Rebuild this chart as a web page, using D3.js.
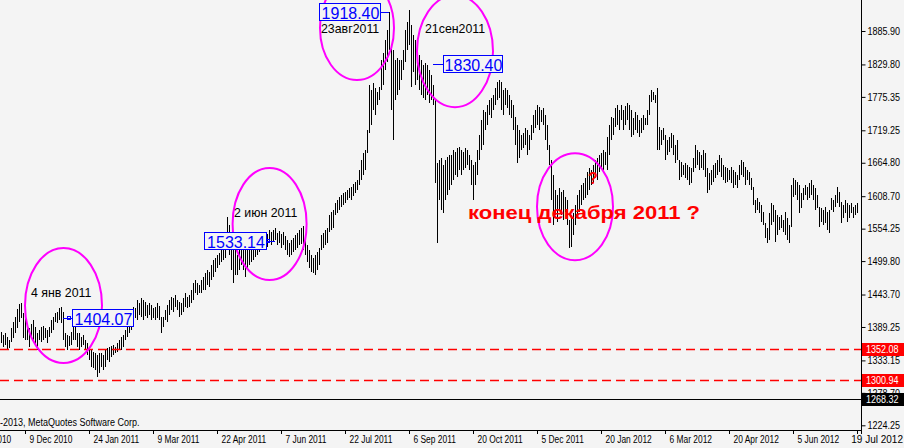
<!DOCTYPE html>
<html><head><meta charset="utf-8">
<script src="https://cdn.jsdelivr.net/npm/d3@7"></script>
<style>
html,body{margin:0;padding:0;background:#f4f4f4;}
svg{display:block;font-family:"Liberation Sans",Arial,sans-serif;}
</style></head>
<body><svg id="c" width="904" height="448"></svg>
<script>
// Daily bars (high / low), XAUUSD, late Oct 2010 .. 19 Jul 2012
const highs=[1381,1376,1379,1372,1367,1388,1398,1406,1419,1428,
1430,1413,1404,1393,1388,1394,1401,1389,1379,1384,
1389,1391,1388,1384,1389,1401,1406,1413,1414,1421,
1423,1414,1379,1376,1374,1381,1389,1398,1379,1379,
1372,1376,1367,1362,1356,1351,1347,1346,1342,1346,
1346,1342,1351,1354,1356,1357,1359,1356,1362,1367,
1372,1376,1384,1389,1401,1406,1423,1421,1434,1430,
1438,1434,1431,1426,1430,1426,1421,1423,1430,1424,
1406,1406,1418,1426,1434,1439,1438,1443,1434,1431,
1430,1438,1446,1439,1443,1451,1463,1468,1463,1460,
1468,1473,1480,1485,1481,1493,1502,1505,1510,1513,
1518,1527,1549,1574,1560,1535,1527,1522,1510,1518,
1530,1527,1518,1522,1527,1535,1530,1539,1542,1535,
1544,1545,1549,1545,1552,1549,1552,1555,1547,1550,
1545,1549,1542,1535,1530,1535,1539,1544,1547,1552,
1555,1559,1544,1527,1518,1510,1505,1510,1515,1522,
1544,1547,1552,1555,1577,1582,1586,1597,1602,1607,
1611,1614,1616,1619,1622,1624,1629,1632,1636,1653,
1669,1681,1686,1720,1795,1787,1799,1790,1784,1792,
1837,1849,1871,1888,1918,1862,1854,1837,1841,1837,
1837,1854,1888,1901,1921,1896,1879,1871,1862,1846,
1837,1829,1832,1829,1820,1812,1795,1770,1664,1669,
1673,1661,1669,1674,1678,1678,1686,1683,1690,1691,
1686,1683,1690,1686,1678,1669,1661,1666,1686,1711,
1737,1753,1750,1762,1770,1773,1779,1790,1800,1804,
1800,1787,1790,1787,1779,1770,1762,1742,1728,1720,
1711,1715,1723,1720,1711,1728,1745,1753,1762,1758,
1753,1757,1745,1728,1695,1669,1644,1619,1611,1622,
1616,1619,1607,1602,1569,1577,1580,1594,1611,1619,
1627,1631,1639,1649,1656,1653,1661,1669,1673,1678,
1681,1686,1683,1708,1728,1742,1740,1757,1762,1753,
1762,1753,1760,1765,1762,1753,1740,1750,1745,1737,
1740,1745,1740,1753,1779,1787,1784,1779,1790,1725,
1720,1723,1711,1703,1708,1715,1711,1695,1703,1669,
1666,1661,1664,1661,1658,1656,1673,1695,1686,1683,
1678,1686,1681,1656,1648,1653,1661,1664,1669,1678,
1673,1661,1658,1656,1653,1658,1653,1649,1644,1661,
1669,1666,1658,1653,1649,1639,1624,1602,1606,1599,
1594,1582,1564,1555,1580,1597,1594,1586,1577,1574,
1577,1569,1582,1572,1560,1627,1639,1636,1632,1627,
1614,1622,1627,1624,1631,1636,1627,1622,1611,1591,
1589,1586,1591,1582,1586,1606,1602,1611,1624,1616,
1599,1594,1602,1597,1594,1597,1591,1594,1597];
const lows=[1362,1356,1359,1351,1354,1364,1371,1379,1388,1398,
1404,1371,1367,1367,1356,1372,1367,1357,1351,1367,
1364,1367,1371,1362,1372,1379,1384,1398,1396,1401,
1396,1367,1356,1351,1357,1359,1367,1367,1356,1351,
1356,1359,1351,1342,1334,1322,1320,1317,1305,1312,
1322,1317,1322,1334,1330,1339,1342,1346,1347,1351,
1351,1356,1367,1372,1379,1384,1396,1404,1401,1409,
1406,1401,1408,1404,1409,1401,1404,1401,1404,1401,
1379,1389,1401,1398,1409,1418,1414,1423,1418,1406,
1409,1414,1423,1421,1423,1430,1434,1446,1443,1446,
1446,1451,1451,1460,1456,1468,1473,1481,1488,1493,
1498,1502,1505,1518,1510,1485,1463,1476,1476,1485,
1493,1485,1473,1485,1493,1498,1502,1507,1510,1515,
1518,1522,1527,1523,1530,1527,1532,1535,1527,1530,
1522,1527,1518,1510,1507,1510,1515,1518,1522,1527,
1529,1518,1510,1498,1488,1481,1480,1476,1485,1493,
1518,1522,1527,1530,1549,1552,1555,1577,1580,1586,
1591,1594,1597,1602,1606,1602,1609,1614,1619,1627,
1636,1644,1653,1681,1715,1728,1753,1745,1762,1770,
1787,1795,1820,1834,1854,1753,1703,1770,1779,1787,
1804,1820,1834,1854,1862,1792,1817,1795,1804,1787,
1779,1773,1770,1779,1765,1770,1762,1631,1530,1602,
1586,1580,1602,1611,1619,1627,1636,1644,1641,1653,
1644,1653,1656,1661,1653,1627,1602,1627,1644,1669,
1686,1695,1720,1728,1745,1740,1753,1762,1770,1773,
1753,1745,1762,1757,1745,1740,1720,1695,1664,1673,
1686,1690,1695,1678,1686,1703,1715,1723,1728,1720,
1733,1728,1703,1686,1661,1602,1560,1577,1565,1586,
1577,1569,1582,1560,1522,1523,1544,1560,1574,1582,
1594,1602,1606,1611,1619,1627,1631,1639,1636,1649,
1656,1653,1661,1653,1678,1703,1711,1725,1728,1720,
1737,1720,1728,1737,1720,1708,1711,1720,1715,1708,
1715,1720,1728,1728,1745,1767,1770,1765,1686,1686,
1695,1703,1669,1678,1683,1690,1678,1664,1669,1636,
1641,1644,1639,1636,1627,1631,1649,1656,1661,1653,
1656,1653,1641,1614,1619,1627,1632,1639,1644,1649,
1641,1636,1631,1632,1636,1631,1622,1627,1622,1636,
1644,1641,1627,1636,1627,1619,1594,1580,1586,1580,
1565,1560,1539,1530,1535,1560,1565,1532,1544,1552,
1555,1549,1544,1535,1530,1557,1607,1611,1602,1580,
1589,1602,1611,1602,1606,1611,1602,1586,1589,1557,
1565,1560,1564,1552,1547,1586,1582,1591,1597,1591,
1564,1572,1580,1565,1572,1580,1572,1577,1580];

const priceTicks=[1885.90,1829.80,1775.35,1719.25,1664.80,1608.70,1554.25,1499.80,1443.70,1389.25,1333.15,1278.70,1224.25];
const dateTickIdx=[-20,12,44,76,108,140,172,204,236,268,300,332,364,396,428];
const dateLabels=["25 Oct 2010","9 Dec 2010","24 Jan 2011","9 Mar 2011","22 Apr 2011","7 Jun 2011","22 Jul 2011","6 Sep 2011","20 Oct 2011","5 Dec 2011","20 Jan 2012","6 Mar 2012","20 Apr 2012","5 Jun 2012","19 Jul 2012"];
const dashedLevels=[1352.08,1300.94];
const bidLevel=1268.32;
const markValues=[1404.07,1533.14,1918.40,1830.40];
const markBars=[31,137,194,216];
const noteTexts=["4 янв 2011","2 июн 2011","23авг2011","21сен2011"];
const mainNote="конец декабря 2011 ?";

const svg=d3.select("#c");
const W=904,H=448, plotR=861, plotB=430;
const x=d3.scaleLinear().domain([0,428]).range([1,857]);
const y=d3.scaleLinear().domain([1224.25,1885.90]).range([425.3,31]);

function squeeze(sel,f){
  sel.each(function(){
    const w=this.getComputedTextLength();
    d3.select(this).attr("textLength",w*f).attr("lengthAdjust","spacingAndGlyphs");
  });
}

svg.append("rect").attr("width",W).attr("height",H).attr("fill","#f4f4f4");

// bars
svg.append("g").selectAll("rect").data(highs).join("rect")
  .attr("x",(d,i)=>x(i)).attr("width",1)
  .attr("y",d=>Math.round(y(d)))
  .attr("height",(d,i)=>Math.max(1,Math.round(y(lows[i]))-Math.round(y(d))))
  .attr("fill","#000");

// level lines
dashedLevels.forEach(v=>{
  svg.append("line").attr("x1",0).attr("x2",plotR).attr("y1",Math.round(y(v))+0.5).attr("y2",Math.round(y(v))+0.5)
    .attr("stroke","#ff0000").attr("stroke-width",1.5).attr("stroke-dasharray","9,5");
});
svg.append("line").attr("x1",0).attr("x2",plotR).attr("y1",Math.round(y(bidLevel))+0.5).attr("y2",Math.round(y(bidLevel))+0.5)
  .attr("stroke","#000").attr("stroke-width",1);

// right axis
const ya=d3.axisRight(y).tickValues(priceTicks).tickSize(4).tickPadding(2).tickFormat(d3.format(".2f"));
const gy=svg.append("g").attr("transform",`translate(${plotR+0.5},0)`).call(ya);
gy.select(".domain").remove();
gy.selectAll("text").attr("font-size",10).attr("fill","#000").attr("font-family","Liberation Sans, Arial, sans-serif");
gy.selectAll("line").attr("stroke","#000");
squeeze(gy.selectAll("text"),0.9);
svg.append("line").attr("x1",plotR+0.5).attr("x2",plotR+0.5).attr("y1",0).attr("y2",434).attr("stroke","#000");

// price boxes on the axis
function axisBox(v,bg){
  const cy=Math.round(y(v));
  svg.append("rect").attr("x",plotR+1).attr("y",cy-6).attr("width",W-plotR-1).attr("height",13).attr("fill",bg);
  const t=svg.append("text").attr("x",plotR+5).attr("y",cy+4).attr("font-size",10).attr("fill","#fff").text(d3.format(".2f")(v));
  squeeze(t,0.9);
}
dashedLevels.forEach(v=>axisBox(v,"#ff0000"));
axisBox(bidLevel,"#000");

// bottom axis
svg.append("line").attr("x1",0).attr("x2",plotR).attr("y1",plotB+0.5).attr("y2",plotB+0.5).attr("stroke","#000");
const gx=svg.append("g");
dateTickIdx.forEach((t,k)=>{
  const px=Math.round(x(t))+0.5;
  gx.append("line").attr("x1",px).attr("x2",px).attr("y1",plotB).attr("y2",plotB+4).attr("stroke","#000");
  const last=k===dateTickIdx.length-1;
  const txt=gx.append("text").attr("x",last?W-1:px+4).attr("y",443).attr("font-size",10)
    .attr("text-anchor",last?"end":"start").attr("fill","#000").text(dateLabels[k]);
  if(!last) squeeze(txt,0.84);
});
const cp=svg.append("text").attr("x",0).attr("y",426).attr("font-size",10).attr("fill","#000").text("-2013, MetaQuotes Software Corp.");
squeeze(cp,0.9);

// ellipses
const ellipses=[[31.25,1425.3,38.5,57.5],[134.3,1562,37,56],[178,1891,37,52],[227,1852,38,56],[287,1591,38,53.5]];
ellipses.forEach(e=>{
  svg.append("ellipse").attr("cx",x(e[0])).attr("cy",y(e[1])).attr("rx",e[2]).attr("ry",e[3])
    .attr("fill","none").attr("stroke","#ff00ff").attr("stroke-width",2);
});

// price mark boxes
const boxX=[72,204,319,443], boxW=[61,62,61,59];
markValues.forEach((v,k)=>{
  const cy=Math.round(y(v))+0.5;
  const bx=x(markBars[k]);
  const left=boxX[k], right=boxX[k]+boxW[k];
  const x1 = bx<left? bx : right, x2 = bx<left? left : bx;
  svg.append("line").attr("x1",x1).attr("x2",x2).attr("y1",cy).attr("y2",cy).attr("stroke","#0000ff");
  if(k<2) svg.append("rect").attr("x",k===0?left-4.5:right+0.5).attr("y",cy-2).attr("width",3).attr("height",3).attr("fill","none").attr("stroke","#0000ff");
  svg.append("rect").attr("x",left+0.5).attr("y",cy-9).attr("width",boxW[k]).attr("height",17)
    .attr("fill","#f4f4f4").attr("stroke","#0000ff");
  svg.append("text").attr("x",left+boxW[k]/2+1).attr("y",cy+6).attr("text-anchor","middle")
    .attr("font-size",16).attr("fill","#0000ff").text(d3.format(".2f")(v));
});

// date notes
const notePos=[[31,297],[234,217],[321,33],[425,33]];
noteTexts.forEach((t,k)=>{
  const n=svg.append("text").attr("x",notePos[k][0]).attr("y",notePos[k][1]).attr("font-size",13).attr("fill","#000").text(t);
  squeeze(n,0.95);
});

svg.append("text").attr("x",468).attr("y",219).attr("font-size",18).attr("font-weight","bold")
  .attr("fill","#ff0000").attr("textLength",232).attr("lengthAdjust","spacingAndGlyphs").text(mainNote);
svg.append("text").attr("x",588).attr("y",184).attr("font-size",16).attr("font-weight","bold")
  .attr("fill","#ff0000").text("?");
</script>
</body></html>
